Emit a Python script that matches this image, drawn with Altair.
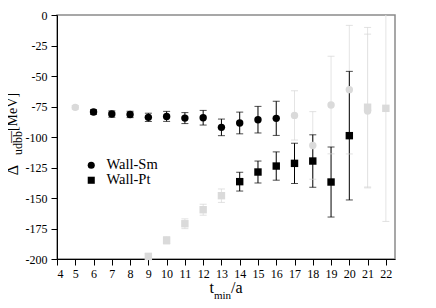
import altair as alt
import pandas as pd

# ---- data ----
sm_t = [5, 6, 7, 8, 9, 10, 11, 12, 13, 14, 15, 16, 17, 18, 19, 20, 21]
sm_val = [-75.7, -79.5, -81.2, -81.5, -83.9, -83.1, -84.5, -84.2, -92.1, -88.5,
          -85.8, -84.7, -82.3, -106.9, -73.8, -61.2, -78.7]
sm_err = [1.5, 2.0, 2.6, 2.6, 3.4, 4.1, 4.5, 6.0, 6.8, 8.9,
          10.9, 14.0, 20.2, 27.7, 40.0, 52.7, 63.0]
sm_excl = [1, 0, 0, 0, 0, 0, 0, 0, 0, 0, 0, 0, 1, 1, 1, 1, 1]

pt_t = [9, 10, 11, 12, 13, 14, 15, 16, 17, 18, 19, 20, 21, 22]
pt_val = [-197.9, -184.7, -171.1, -159.6, -148.1, -136.6, -128.7, -123.8,
          -121.6, -119.7, -136.9, -98.9, -75.6, -76.5]
pt_err = [2.5, 3.0, 4.0, 4.5, 5.5, 7.7, 9.0, 11.6, 16.5, 21.5, 28.7, 52.7, 65.4, 92.7]
pt_excl = [1, 1, 1, 1, 1, 0, 0, 0, 0, 0, 0, 0, 1, 1]

series_names = ["Wall-Sm", "Wall-Pt"]
x_ticks = list(range(4, 23))
y_ticks = list(range(-200, 1, 25))

rows = []
for name, ts, vs, es, gs in [(series_names[0], sm_t, sm_val, sm_err, sm_excl),
                             (series_names[1], pt_t, pt_val, pt_err, pt_excl)]:
    for t, v, e, g in zip(ts, vs, es, gs):
        rows.append(dict(t=t, v=v, lo=v - e, hi=v + e, series=name, gray=g,
                         fill="#dadada" if g else "#000000",
                         bar="#e4e4e4" if g else "#000000",
                         cap="#d4d4d4" if g else "#000000"))
df = pd.DataFrame(rows).sort_values("gray", ascending=False, kind="stable")

FONT = "Liberation Serif"
xscale = alt.Scale(domain=[4, 22.5], nice=False, zero=False)
yscale = alt.Scale(domain=[-200, 0], nice=False, zero=False)
xaxis = alt.Axis(values=x_ticks, title=None, grid=False, tickSize=6, labelPadding=3,
                 labelFont=FONT, labelFontSize=12, labelColor="black",
                 domainColor="black", tickColor="black", labelExpr="'' + datum.value")
yaxis = alt.Axis(values=y_ticks, title=None, grid=False, tickSize=6, labelPadding=4,
                 labelFont=FONT, labelFontSize=12, labelColor="black",
                 domainColor="black", tickColor="black", labelExpr="'' + datum.value")

X = alt.X("t:Q", scale=xscale, axis=xaxis)

base = alt.Chart(df)
bars = base.mark_rule(strokeWidth=1, clip=True).encode(
    x=X, y=alt.Y("lo:Q", scale=yscale, axis=yaxis), y2="hi:Q",
    color=alt.Color("bar:N", scale=None))
caps_lo = base.mark_tick(orient="horizontal", size=7, thickness=1, clip=True).encode(
    x=X, y=alt.Y("lo:Q", scale=yscale, axis=yaxis), color=alt.Color("cap:N", scale=None))
caps_hi = base.mark_tick(orient="horizontal", size=7, thickness=1, clip=True).encode(
    x=X, y=alt.Y("hi:Q", scale=yscale, axis=yaxis), color=alt.Color("cap:N", scale=None))
points = base.mark_point(filled=True, size=55, opacity=1, strokeWidth=0).encode(
    x=X, y=alt.Y("v:Q", scale=yscale, axis=yaxis),
    fill=alt.Fill("fill:N", scale=None),
    shape=alt.Shape("series:N",
                    scale=alt.Scale(domain=series_names, range=["circle", "square"]),
                    legend=alt.Legend(title=None, orient="none", legendX=27, legendY=143,
                                      labelFont=FONT, labelFontSize=14.5, labelColor="black",
                                      symbolSize=50, symbolFillColor="black",
                                      symbolStrokeColor="black", symbolStrokeWidth=0,
                                      symbolOpacity=1, labelOffset=8, rowPadding=0,
                                      padding=0)))

one = pd.DataFrame({"k": [0]})


def txt(s, size, xv, yv, align="left", angle=0):
    return alt.Chart(one).mark_text(text=s, font=FONT, fontSize=size, align=align,
                                    baseline="alphabetic", angle=angle,
                                    color="black").encode(x=alt.value(xv), y=alt.value(yv))


titles = [
    txt("t", 16, 157, 278, align="right"),
    txt("min", 11, 157, 284),
    txt("/a", 16, 174, 278),
    txt("\u0394", 16, -39, 155, align="center", angle=270),
    txt("udb\u0305b\u0305", 12, -35, 128, align="center", angle=270),
    txt("[MeV]", 14, -40, 97, align="center", angle=270),
]

chart = alt.layer(bars, caps_lo, caps_hi, points, *titles).properties(
    width=338, height=244,
    padding={"left": 49, "top": 7, "right": 33, "bottom": 41},
    autosize=alt.AutoSizeParams(type="none"),
    background="white",
).configure_view(stroke="#8a8a8a", strokeWidth=1.5)

chart.save("out.html", embed_options={"renderer": "svg", "actions": False})
